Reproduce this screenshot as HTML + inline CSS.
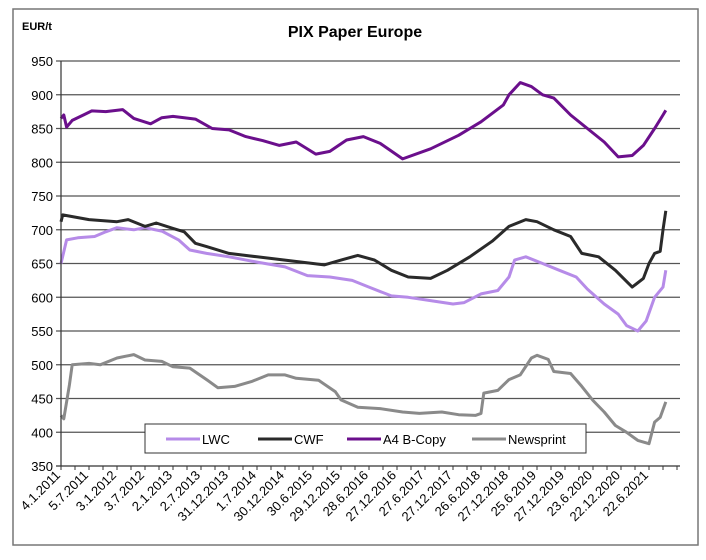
<!DOCTYPE html>
<html><head><meta charset="utf-8"><style>
body{margin:0;background:#fff;width:706px;height:555px;overflow:hidden;font-family:"Liberation Sans",sans-serif}
</style></head><body>
<svg id="chart" width="706" height="555" xmlns="http://www.w3.org/2000/svg" font-family="Liberation Sans, sans-serif">
<rect x="13" y="9" width="685" height="536" fill="#fff" stroke="#777" stroke-width="1.5"/>
<text x="355" y="37" text-anchor="middle" font-size="16" font-weight="bold">PIX Paper Europe</text>
<text x="22" y="30" font-size="11" font-weight="bold">EUR/t</text>
<g id="grid"></g><g id="series"></g><g id="axes"></g>
</svg>
<script>
const yTicks=[350,400,450,500,550,600,650,700,750,800,850,900,950];
const dateLabels=["4.1.2011","5.7.2011","3.1.2012","3.7.2012","2.1.2013","2.7.2013","31.12.2013","1.7.2014","30.12.2014","30.6.2015","29.12.2015","28.6.2016","27.12.2016","27.6.2017","27.12.2017","26.6.2018","27.12.2018","25.6.2019","27.12.2019","23.6.2020","22.12.2020","22.6.2021"];
const seriesNames=["LWC","CWF","A4 B-Copy","Newsprint"];
const a4T=[0,0.05,0.1,0.2,0.4,0.55,0.8,1.1,1.3,1.6,1.8,2.0,2.4,2.7,3.0,3.3,3.6,3.9,4.2,4.55,4.8,5.1,5.4,5.7,6.1,6.6,7.1,7.5,7.9,8.0,8.2,8.4,8.6,8.8,9.1,9.4,9.7,9.95,10.2,10.4,10.6,10.75,10.8];
const a4V=[865,870,852,862,870,876,875,878,865,857,866,868,864,850,848,838,832,825,830,812,816,833,838,828,805,820,840,860,885,900,918,912,900,895,870,850,830,808,810,825,850,870,877];
const cwfT=[0,0.03,0.5,1.0,1.2,1.5,1.7,2.0,2.2,2.4,2.6,3.0,3.5,4.0,4.5,4.7,5.0,5.3,5.6,5.9,6.2,6.6,6.9,7.3,7.7,8.0,8.3,8.5,8.8,9.1,9.3,9.6,9.9,10.2,10.4,10.5,10.6,10.7,10.75,10.8];
const cwfV=[712,722,715,712,715,705,710,702,697,680,675,665,660,655,650,648,655,662,655,640,630,628,640,660,683,705,715,712,700,690,665,660,640,615,628,650,665,668,700,728];
const lwcT=[0,0.1,0.3,0.6,0.8,1.0,1.3,1.5,1.8,2.1,2.3,2.6,3.0,3.5,4.0,4.4,4.8,5.2,5.5,5.9,6.2,6.6,7.0,7.2,7.5,7.8,8.0,8.1,8.3,8.6,8.9,9.2,9.4,9.7,9.95,10.1,10.3,10.45,10.6,10.75,10.8];
const lwcV=[650,685,688,690,697,703,700,703,698,685,670,665,660,652,645,632,630,625,615,602,600,595,590,592,605,610,630,655,660,650,640,630,612,590,575,558,550,565,600,615,640];
const newsT=[0,0.05,0.15,0.2,0.5,0.7,1.0,1.3,1.5,1.8,2.0,2.3,2.6,2.8,3.1,3.4,3.7,4.0,4.2,4.6,4.9,5.0,5.3,5.7,6.1,6.4,6.8,7.1,7.4,7.5,7.55,7.8,8.0,8.2,8.4,8.5,8.7,8.8,9.1,9.3,9.5,9.7,9.9,10.1,10.3,10.5,10.6,10.7,10.8];
const newsV=[425,420,470,500,502,500,510,515,507,505,497,495,478,466,468,475,485,485,480,477,460,448,437,435,430,428,430,426,425,428,458,462,478,485,510,514,508,490,487,468,447,430,410,400,388,383,415,422,445];
const X0=61,X1=680,Y0=466,Y1=61,PXY=56;
const xs=t=>X0+t*PXY;
const ys=v=>Y0-(v-350)*(Y0-Y1)/600;
const NS="http://www.w3.org/2000/svg";
function mk(tag,attrs,parent){const e=document.createElementNS(NS,tag);for(const k in attrs)e.setAttribute(k,attrs[k]);parent.appendChild(e);return e;}
const grid=document.getElementById('grid'),ser=document.getElementById('series'),axes=document.getElementById('axes');
yTicks.forEach(v=>{
 const l=mk('line',{x1:X0-5,x2:X1,y1:ys(v),y2:ys(v),stroke:v===350?'#333':'#555','stroke-width':1.2},grid);
 
 
 const t=mk('text',{x:X0-8,y:ys(v)+5,'text-anchor':'end','font-size':13},axes);
 t.textContent=v;
 
 
});
const ax=mk('line',{x1:X0,x2:X0,y1:Y1,y2:Y0,stroke:'#333','stroke-width':1.2},axes);


for(let i=0;i<=44;i++){
 const x=xs(i*0.25);
 const tk=mk('line',{x1:x,x2:x,y1:Y0,y2:Y0+4,stroke:'#333','stroke-width':1},axes);
 
 
}
dateLabels.forEach((d,i)=>{
 const x=xs(i*0.5),y=Y0+10;
 const t=mk('text',{x:x,y:y,'text-anchor':'end','font-size':13,transform:`rotate(-45 ${x} ${y})`},axes);
 t.textContent=d;
 
 
});
const colors=["#b68be8","#2a2a2a","#6b0f8c","#8a8a8a"];
const data=[[lwcT,lwcV],[cwfT,cwfV],[a4T,a4V],[newsT,newsV]];
const order=[3,0,1,2];
order.forEach(i=>{
 const [T,V]=data[i];
 const p=mk('polyline',{points:T.map((t,j)=>xs(t).toFixed(1)+','+ys(V[j]).toFixed(1)).join(' '),fill:'none',stroke:colors[i],'stroke-width':3,'stroke-linejoin':'round'},ser);
 
 
});
const lg=mk('g',{},axes);


mk('rect',{x:145,y:424,width:441,height:29,fill:'#fff',stroke:'#333','stroke-width':1},lg);
const lx=[166,258,347,472];
seriesNames.forEach((n,i)=>{
 const g=mk('g',{},lg);
 
 
 mk('line',{x1:lx[i],x2:lx[i]+34,y1:439,y2:439,stroke:colors[i],'stroke-width':3},g);
 const t=mk('text',{x:lx[i]+36,y:444,'font-size':13},g);
 t.textContent=n;
});
</script>
</body></html>
